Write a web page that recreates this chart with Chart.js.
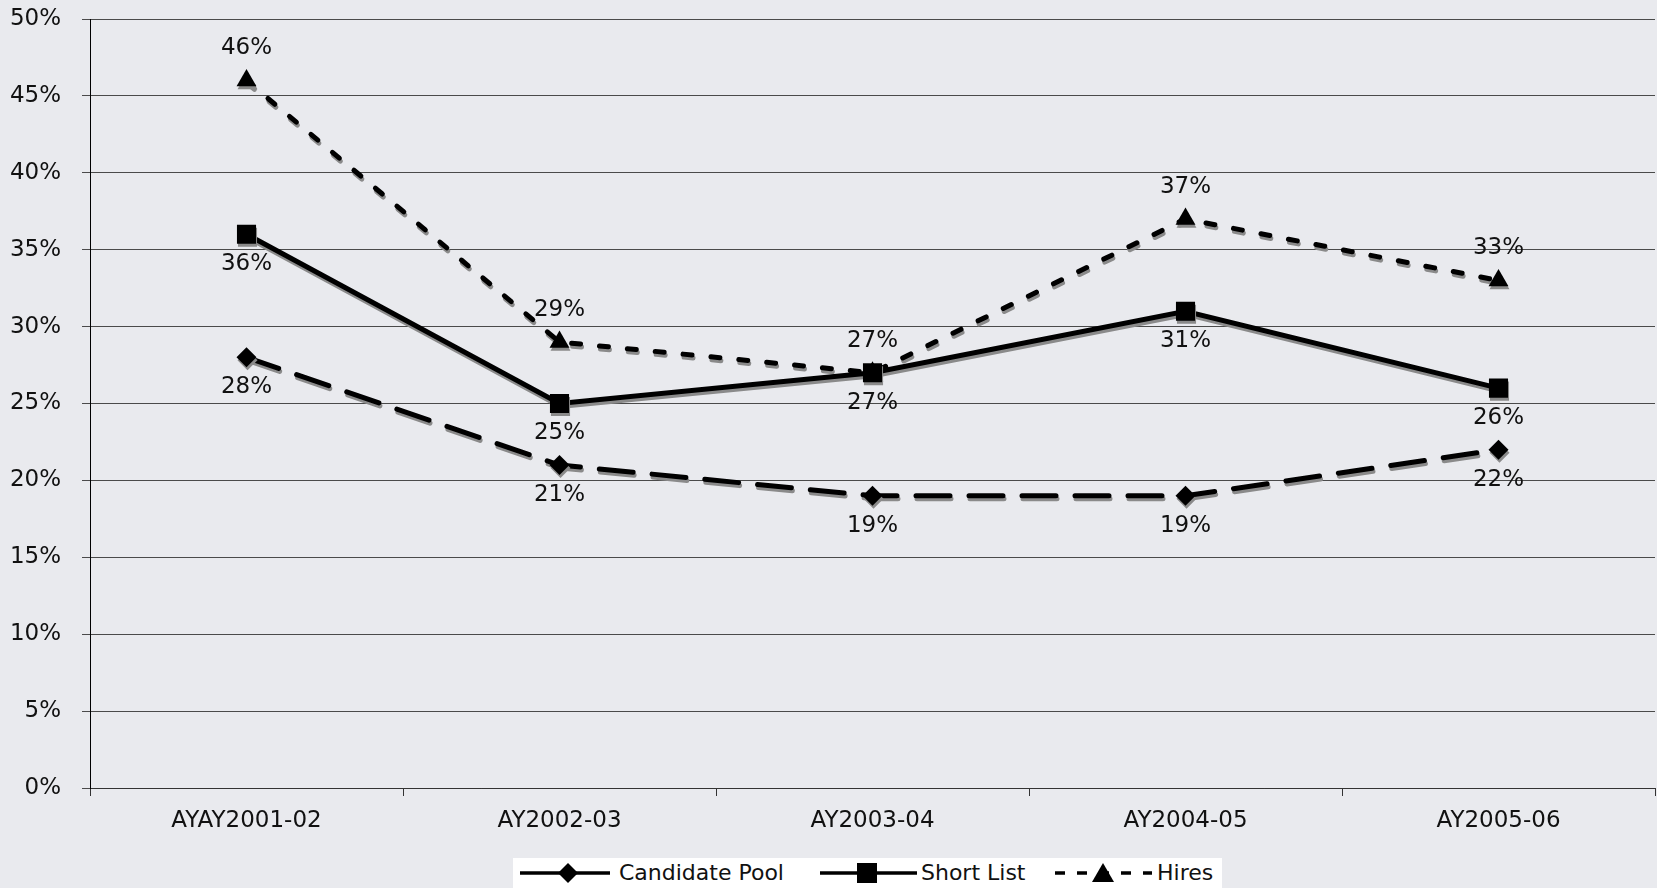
<!DOCTYPE html>
<html>
<head>
<meta charset="utf-8">
<script src="https://cdn.jsdelivr.net/npm/chart.js@4.4.1/dist/chart.umd.min.js"></script>
<style>
  html, body { margin: 0; padding: 0; background: #e9eaee; }
  #wrap { position: relative; width: 1657px; height: 888px; }
  #chart { display: block; }
  #legend { position: absolute; left: 513px; top: 858px; width: 709px; height: 30px; background: #fff;
            font-family: "DejaVu Sans", sans-serif; font-size: 22px; color: #111; }
  #legend svg, #legend span { position: absolute; }
  #legend span { top: 1px; line-height: 28px; white-space: nowrap; }
</style>
</head>
<body>
<div id="wrap">
  <canvas id="chart" width="1657" height="888"></canvas>
  <div id="legend"></div>
</div>
<script>
// Dados do gráfico
const anos = ['AYAY2001-02', 'AY2002-03', 'AY2003-04', 'AY2004-05', 'AY2005-06'];
const candidatePool = [28, 21, 19, 19, 22];
const shortList = [36, 25, 27, 31, 26];
const hires = [46, 29, 27, 37, 33];

// Sombra cinza por baixo das linhas
const sombraPlugin = {
    id: 'sombra',
    beforeDatasetsDraw(chart) {
        const ctx = chart.ctx;
        ctx.save();
        ctx.shadowColor = '#8a8a8a';
        ctx.shadowOffsetX = 1;
        ctx.shadowOffsetY = 3;
        ctx.shadowBlur = 0;
    },
    afterDatasetsDraw(chart) {
        chart.ctx.restore();
    }
};

// Rótulos de valor (acima ou abaixo do ponto)
const rotulosPlugin = {
    id: 'rotulos',
    afterDraw(chart) {
        const ctx = chart.ctx;
        ctx.save();
        ctx.font = '23px "DejaVu Sans"';
        ctx.fillStyle = '#111';
        ctx.textAlign = 'center';
        ctx.textBaseline = 'middle';
        chart.data.datasets.forEach((ds, i) => {
            const meta = chart.getDatasetMeta(i);
            meta.data.forEach((pt, j) => {
                const dy = ds.rotuloAcima ? -32 : 30;
                ctx.fillText(ds.data[j] + '%', pt.x, pt.y + dy);
            });
        });
        ctx.restore();
    }
};

const ctx = document.getElementById('chart').getContext('2d');
const grafico = new Chart(ctx, {
    type: 'line',
    data: {
        labels: anos,
        datasets: [{
            label: 'Candidate Pool',
            data: candidatePool,
            borderColor: '#000',
            backgroundColor: '#000',
            borderWidth: 5,
            borderDash: [34, 19],
            borderCapStyle: 'round',
            pointStyle: 'rectRot',
            pointRadius: 10,
            pointBorderWidth: 0,
            rotuloAcima: false
        }, {
            label: 'Short List',
            data: shortList,
            borderColor: '#000',
            backgroundColor: '#000',
            borderWidth: 5,
            pointStyle: 'rect',
            pointRadius: 13.5,
            pointBorderWidth: 0,
            rotuloAcima: false
        }, {
            label: 'Hires',
            data: hires,
            borderColor: '#000',
            backgroundColor: '#000',
            borderWidth: 5,
            borderDash: [9, 19],
            borderCapStyle: 'round',
            pointStyle: 'triangle',
            pointRadius: 11.5,
            pointBorderWidth: 0,
            rotuloAcima: true
        }]
    },
    options: {
        responsive: false,
        animation: false,
        layout: { autoPadding: false, padding: { top: 19, right: 2, left: 0, bottom: 0 } },
        plugins: { legend: { display: false }, tooltip: { enabled: false } },
        scales: {
            x: {
                offset: true,
                grid: { offset: true, drawOnChartArea: false, drawTicks: true, tickLength: 8, color: '#333' },
                border: { color: '#333', width: 1 },
                ticks: { color: '#111', font: { family: 'DejaVu Sans', size: 23 }, padding: 11, maxRotation: 0 },
                afterFit: s => { s.height = 100; s.paddingLeft = 0; s.paddingRight = 0; s.paddingTop = 0; s.paddingBottom = 0; }
            },
            y: {
                min: 0,
                max: 50,
                ticks: { stepSize: 5, color: '#111', font: { family: 'DejaVu Sans', size: 23 }, padding: 21,
                         callback: v => v + '%' },
                grid: { color: '#4a4a4a', lineWidth: 1, tickLength: 8 },
                border: { color: '#000', width: 1 },
                afterFit: s => { s.width = 90; s.paddingTop = 0; s.paddingBottom = 0; s.paddingLeft = 0; s.paddingRight = 0; }
            }
        }
    },
    plugins: [sombraPlugin, rotulosPlugin]
});

// Legenda em HTML (linha + marcador + texto)
const itensLegenda = [
    { nome: 'Candidate Pool', x: 7, w: 90, marca: 'diamante', mx: 48, dash: '', tx: 106 },
    { nome: 'Short List', x: 307, w: 97, marca: 'quadrado', mx: 47, dash: '', tx: 408 },
    { nome: 'Hires', x: 542, w: 97, marca: 'triangulo', mx: 48, dash: '10 12', tx: 644 }
];
const legenda = document.getElementById('legend');
itensLegenda.forEach(it => {
    let marca = '';
    if (it.marca === 'diamante') marca = `<polygon points="${it.mx - 10},15 ${it.mx},5 ${it.mx + 10},15 ${it.mx},25" fill="#000"/>`;
    if (it.marca === 'quadrado') marca = `<rect x="${it.mx - 10}" y="5" width="20" height="20" fill="#000"/>`;
    if (it.marca === 'triangulo') marca = `<polygon points="${it.mx - 11},24 ${it.mx},5 ${it.mx + 11},24" fill="#000"/>`;
    legenda.insertAdjacentHTML('beforeend',
        `<svg style="left:${it.x}px;top:0" width="${it.w}" height="30">
            <line x1="0" y1="15" x2="${it.w}" y2="15" stroke="#000" stroke-width="3.5" stroke-dasharray="${it.dash}"/>
            ${marca}
         </svg>
         <span style="left:${it.tx}px">${it.nome}</span>`);
});
</script>
</body>
</html>
